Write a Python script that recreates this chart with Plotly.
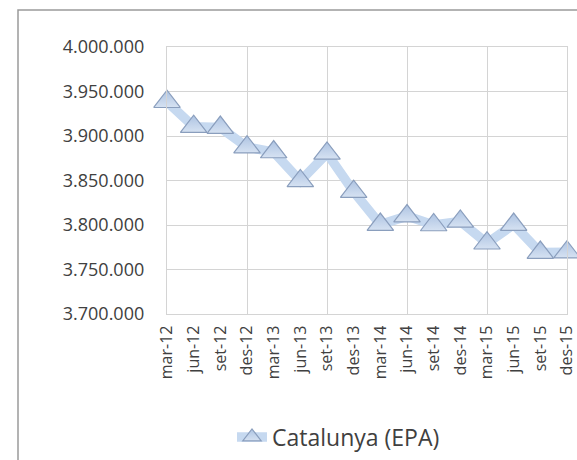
import plotly.graph_objects as go

categories = ["mar-12", "jun-12", "set-12", "des-12", "mar-13", "jun-13", "set-13", "des-13",
              "mar-14", "jun-14", "set-14", "des-14", "mar-15", "jun-15", "set-15", "des-15"]
values = [3938500, 3910500, 3909500, 3887500, 3882000, 3849500, 3880500, 3837500,
          3800500, 3810000, 3800000, 3804000, 3779500, 3800500, 3769000, 3769500]
series_name = "Catalunya (EPA)"
y_ticks = [3700000, 3750000, 3800000, 3850000, 3900000, 3950000, 4000000]

x_idx = list(range(len(categories)))

fig = go.Figure()
fig.add_trace(go.Scatter(
    x=x_idx, y=values, name=series_name, mode="lines+markers",
    line=dict(color="#c6d9f0", width=9.5),
    marker=dict(symbol="triangle-up", size=23, color="#adc3e2",
                gradient=dict(type="vertical", color="#d6e2f2"),
                line=dict(color="#8a9ebd", width=1.2)),
    cliponaxis=False,
))

L, R, T, B = 167, 10, 47, 146
W, H = 577, 460
pw, ph = W - L - R, H - T - B

fig.update_layout(
    width=W, height=H,
    margin=dict(l=L, r=R, t=T, b=B, autoexpand=False),
    paper_bgcolor="white", plot_bgcolor="white",
    separators=",.",
    font=dict(family="Open Sans, Noto Sans, sans-serif", color="#404040"),
    showlegend=True,
    legend=dict(orientation="h", x=(232 - L) / pw, xanchor="left",
                y=(314 - 437) / ph, yanchor="middle",
                font=dict(size=23, color="#404040"), bgcolor="rgba(0,0,0,0)"),
    xaxis=dict(range=[0, len(categories) - 1], tickmode="array", tickvals=x_idx,
               ticktext=categories, tickangle=-90, tickfont=dict(size=16, color="#404040"),
               ticklabeloverflow="allow",
               showgrid=False, zeroline=False, showline=True, linecolor="#d4d4d4",
               linewidth=1.3, mirror=True, ticks="outside", ticklen=4,
               tickcolor="rgba(0,0,0,0)", automargin=False,
               minor=dict(tickmode="array", tickvals=[0, 3, 6, 9, 12, 15], showgrid=True,
                          gridcolor="#d4d4d4", gridwidth=1.3, ticks="")),
    yaxis=dict(range=[3700000, 4000000], tickmode="array", tickvals=y_ticks,
               tickformat=",d", tickfont=dict(size=18, color="#404040"),
               showgrid=True, gridcolor="#d4d4d4", gridwidth=1.3, zeroline=False,
               showline=True, linecolor="#d4d4d4", linewidth=1.3, mirror=True,
               ticks="outside", ticklen=18, tickcolor="rgba(0,0,0,0)", automargin=False),
    shapes=[dict(type="rect", xref="paper", yref="paper",
                 x0=(18 - L) / pw, x1=(640 - L) / pw,
                 y0=(314 - 520) / ph, y1=(314 - 10) / ph,
                 line=dict(color="#9a9a9a", width=1.5), fillcolor="rgba(0,0,0,0)",
                 layer="below")],
)

fig.write_html("out.html", config={"displayModeBar": False},
               post_script="document.body.style.margin='0';document.body.style.overflow='hidden';")
